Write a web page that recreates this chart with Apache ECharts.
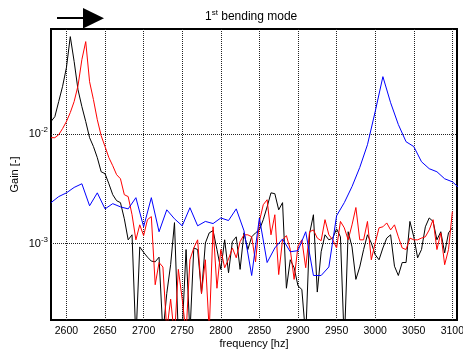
<!DOCTYPE html>
<html><head><meta charset="utf-8">
<script src="https://cdn.jsdelivr.net/npm/echarts@6/dist/echarts.min.js"></script>
<style>html,body{margin:0;padding:0;background:#fff}#c{width:463px;height:350px}</style>
</head><body><div id="c"></div>
<script>
const freqKR = [2580,2585,2590,2595,2600,2605,2610,2615,2620,2625,2630,2635,2640,2645,2650,2655,2660,2665,2670,2675,2680,2685,2690,2695,2700,2705,2710,2715,2720,2725,2730,2735,2740,2745,2750,2755,2760,2765,2770,2775,2780,2785,2790,2795,2800,2805,2810,2815,2820,2825,2830,2835,2840,2845,2850,2855,2860,2865,2870,2875,2880,2885,2890,2895,2900,2905,2910,2915,2920,2925,2930,2935,2940,2945,2950,2955,2960,2965,2970,2975,2980,2985,2990,2995,3000,3005,3010,3015,3020,3025,3030,3035,3040,3045,3050,3055,3060,3065,3070,3075,3080,3085,3090,3095,3100];
const gainBlack = [0.0130,0.0144,0.0198,0.0272,0.0404,0.0775,0.0459,0.0254,0.0178,0.0130,0.00925,0.00768,0.00608,0.00452,0.00434,0.00351,0.00279,0.00246,0.00236,0.00168,0.00108,0.00120,0.00013,0.00093,0.00083,0.00075,0.00069,0.00068,0.00075,0.00015,0.00035,0.00064,0.00155,0.00014,0.00016,0.00088,0.00015,0.00091,0.00088,0.00035,0.00101,0.00125,0.00131,0.00088,0.00058,0.00108,0.00054,0.00104,0.00115,0.00058,0.00125,0.00088,0.00115,0.00125,0.00133,0.00165,0.00216,0.00290,0.00285,0.00203,0.00236,0.00039,0.00071,0.00060,0.00041,0.00038,0.00014,0.00123,0.00183,0.00036,0.00084,0.00120,0.00108,0.00112,0.00136,0.00115,0.00012,0.00128,0.00093,0.00047,0.00061,0.00088,0.00120,0.00101,0.00079,0.00071,0.00091,0.00112,0.00120,0.00062,0.00051,0.00067,0.00067,0.00159,0.00115,0.00074,0.00088,0.00142,0.00171,0.00159,0.00108,0.00128,0.00082,0.00125,0.00139];
const gainRed = [0.00925,0.00925,0.00985,0.0112,0.0130,0.0157,0.0198,0.0276,0.0478,0.0698,0.0300,0.0206,0.0135,0.00965,0.00768,0.00608,0.00513,0.00425,0.00390,0.00279,0.00268,0.00183,0.00108,0.00148,0.00118,0.00165,0.00176,0.00042,0.00067,0.00061,0.00016,0.00031,0.00014,0.00058,0.00031,0.00015,0.00071,0.00091,0.00108,0.00035,0.00071,0.00016,0.00142,0.00039,0.00088,0.00060,0.00072,0.00091,0.00074,0.00104,0.00120,0.00120,0.00115,0.00068,0.00159,0.00226,0.00251,0.00120,0.00183,0.00052,0.00108,0.00118,0.00088,0.00047,0.00095,0.00108,0.00060,0.00128,0.00133,0.00112,0.00106,0.00165,0.00120,0.00108,0.00091,0.00159,0.00139,0.00108,0.00148,0.00213,0.00108,0.00108,0.00159,0.00071,0.00101,0.00139,0.00142,0.00154,0.00133,0.00148,0.00115,0.00091,0.00088,0.00112,0.00108,0.00108,0.00112,0.00115,0.00133,0.00165,0.00088,0.00125,0.00064,0.00088,0.00196];
const freqB = [2580,2590,2600,2610,2620,2630,2640,2650,2660,2670,2680,2690,2700,2710,2720,2730,2740,2750,2760,2770,2780,2790,2800,2810,2820,2830,2840,2850,2860,2870,2880,2890,2900,2910,2920,2930,2940,2950,2960,2970,2980,2990,3000,3010,3020,3030,3040,3050,3060,3070,3080,3090,3100,3110];
const gainBlue = [0.00236,0.00268,0.00290,0.00325,0.00351,0.00221,0.00290,0.00207,0.00231,0.00216,0.00207,0.00262,0.00142,0.00262,0.00128,0.00203,0.00168,0.00145,0.00212,0.00145,0.00159,0.00152,0.00171,0.00162,0.00207,0.00131,0.00051,0.00171,0.00067,0.00091,0.00110,0.00084,0.00086,0.00128,0.00051,0.00051,0.00061,0.00179,0.00236,0.00331,0.00494,0.00798,0.0160,0.0334,0.0193,0.0122,0.00850,0.00768,0.00558,0.00482,0.00452,0.00390,0.00366,0.00316];
const xTicks = [2600,2650,2700,2750,2800,2850,2900,2950,3000,3050,3100];
const yTicks = [0.001,0.01];

const zip = (xs, ys) => xs.map((x, i) => [x, ys[i]]);
const FONT = 'Liberation Sans, Arial, sans-serif';
const chart = echarts.init(document.getElementById('c'), null, {renderer: 'canvas'});
const gridLine = {show: true, lineStyle: {color: '#222', type: 'dotted', width: 1}};
chart.setOption({
  animation: false,
  backgroundColor: '#fff',
  grid: {left: 51, right: 6, top: 29, bottom: 30, show: true, borderColor: '#000', borderWidth: 2,
         backgroundColor: 'transparent', containLabel: false, outerBoundsMode: 'none'},
  xAxis: {
    type: 'value', min: 2580, max: 3106,
    axisLine: {show: false},
    axisTick: {show: false, customValues: xTicks},
    splitLine: gridLine,
    axisLabel: {customValues: xTicks, fontSize: 10.5, color: '#000', fontFamily: FONT, margin: 6,
                formatter: v => String(v)},
    name: 'frequency [hz]', nameLocation: 'middle', nameGap: 18, nameMoveOverlap: false,
    nameTextStyle: {fontSize: 11, color: '#000', fontFamily: FONT}
  },
  yAxis: {
    type: 'log', logBase: 10, min: 0.0002, max: 0.091,
    axisLine: {show: false},
    axisTick: {show: false, customValues: yTicks},
    splitLine: gridLine,
    axisLabel: {
      customValues: yTicks, color: '#000', fontFamily: FONT, margin: 3,
      formatter: v => '{b|10}{s|' + Math.round(Math.log10(v)) + '}',
      rich: {b: {fontSize: 11, fontFamily: FONT, color: '#000'}, s: {fontSize: 8, fontFamily: FONT, color: '#000', padding: [0, 0, 8, 0]}}
    },
    name: 'Gain [-]', nameLocation: 'middle', nameRotate: 90, nameGap: 31, nameMoveOverlap: false,
    nameTextStyle: {fontSize: 11, color: '#000', fontFamily: FONT}
  },
  graphic: [
    {type: 'line', shape: {x1: 57, y1: 18, x2: 85, y2: 18}, style: {stroke: '#000', lineWidth: 2}},
    {type: 'polygon', shape: {points: [[83, 8], [104, 18.3], [83, 28.5]]}, style: {fill: '#000'}},
    {type: 'text', left: 205, top: 9, style: {
      text: '{a|1}{s|st}{a| bending mode}', fill: '#000',
      rich: {a: {fontSize: 12, fontFamily: FONT, fill: '#000'}, s: {fontSize: 8, fontFamily: FONT, fill: '#000', padding: [0, 0, 8, 0]}}
    }}
  ],
  series: [
    {type: 'line', data: zip(freqKR, gainBlack), showSymbol: false, lineStyle: {color: '#000', width: 1}, itemStyle: {color: '#000'}, clip: true},
    {type: 'line', data: zip(freqKR, gainRed), showSymbol: false, lineStyle: {color: '#ff0000', width: 1}, itemStyle: {color: '#ff0000'}, clip: true},
    {type: 'line', data: zip(freqB, gainBlue), showSymbol: false, lineStyle: {color: '#0000ff', width: 1}, itemStyle: {color: '#0000ff'}, clip: true}
  ]
});
</script></body></html>
